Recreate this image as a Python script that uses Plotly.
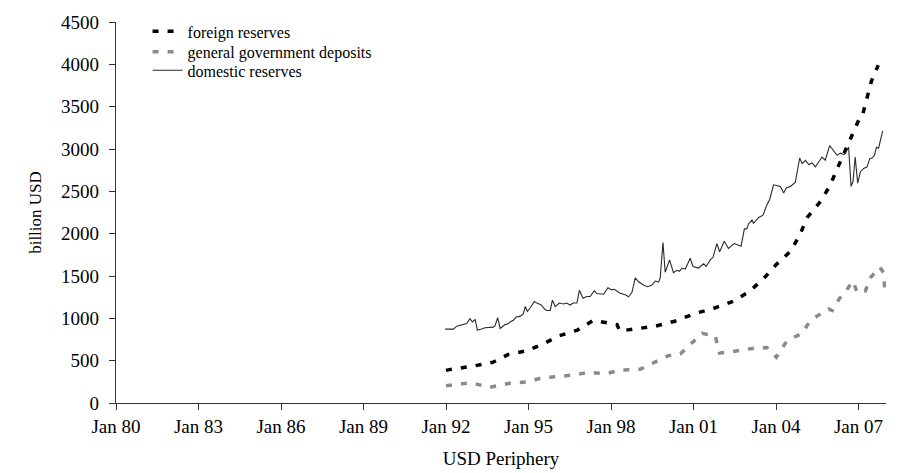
import plotly.graph_objects as go

# ---- data (decimal years, billion USD) ----
dom_t = [1991.97, 1992.27, 1992.39, 1992.57, 1992.75, 1992.87, 1992.96, 1993.06, 1993.14, 1993.30,
         1993.42, 1993.72, 1993.78, 1993.88, 1993.97, 1994.15, 1994.27, 1994.33, 1994.45, 1994.55,
         1994.69, 1994.81, 1994.88, 1994.96, 1995.08, 1995.21, 1995.32, 1995.45, 1995.60, 1995.67,
         1995.79, 1995.87, 1995.97, 1996.12, 1996.27, 1996.39, 1996.51, 1996.63, 1996.76, 1996.85,
         1996.98, 1997.12, 1997.24, 1997.39, 1997.49, 1997.73, 1997.89, 1998.03, 1998.12, 1998.33,
         1998.52, 1998.64, 1998.76, 1998.88, 1999.00, 1999.18, 1999.33, 1999.49, 1999.61, 1999.73,
         1999.79, 1999.89, 1999.97, 2000.13, 2000.27, 2000.40, 2000.49, 2000.58, 2000.70, 2000.88,
         2000.98, 2001.18, 2001.37, 2001.46, 2001.61, 2001.71, 2001.85, 2001.95, 2002.12, 2002.27,
         2002.48, 2002.64, 2002.73, 2002.85, 2002.94, 2003.00, 2003.13, 2003.18, 2003.37, 2003.53,
         2003.65, 2003.77, 2003.91, 2004.01, 2004.16, 2004.28, 2004.37, 2004.52, 2004.70, 2004.86,
         2004.95, 2005.07, 2005.19, 2005.31, 2005.43, 2005.55, 2005.67, 2005.79, 2005.95, 2006.07,
         2006.22, 2006.34, 2006.48, 2006.64, 2006.73, 2006.80, 2006.88, 2006.97, 2007.07, 2007.19,
         2007.31, 2007.41, 2007.49, 2007.58, 2007.65, 2007.73, 2007.88]
dom_v = [873, 873, 907, 919, 938, 995, 957, 988, 861, 873,
         888, 896, 911, 1007, 880, 926, 938, 957, 977, 1015,
         1023, 1053, 1139, 1081, 1131, 1200, 1177, 1162, 1104, 1093,
         1093, 1215, 1139, 1181, 1169, 1181, 1157, 1181, 1181, 1331,
         1238, 1258, 1258, 1324, 1293, 1285, 1362, 1336, 1343, 1296,
         1278, 1255, 1304, 1478, 1432, 1393, 1374, 1393, 1440, 1428,
         1478, 1895, 1544, 1690, 1540, 1567, 1556, 1594, 1582, 1709,
         1613, 1594, 1644, 1613, 1690, 1721, 1883, 1787, 1910, 1825,
         1883, 1864, 1852, 2057, 2057, 2115, 2161, 2122, 2192, 2219,
         2326, 2404, 2577, 2569, 2558, 2481, 2539, 2558, 2604, 2893,
         2828, 2867, 2817, 2836, 2789, 2847, 2905, 2867, 3040, 2991,
         2925, 2951, 2933, 3021, 2558, 2616, 2905, 2597, 2732, 2771,
         2789, 2886, 2893, 2925, 3021, 3009, 3214]

for_t = [1992.00, 1992.17, 1992.94, 1993.69, 1994.27, 1994.96, 1995.54, 1996.13, 1996.78, 1997.36,
         1997.94, 1998.22, 1998.32, 1998.92, 1999.61, 2000.35, 2001.06, 2001.75, 2002.46, 2003.04,
         2003.55, 2004.00, 2004.52, 2004.86, 2005.13, 2005.58, 2005.95, 2006.22, 2006.50, 2006.78,
         2007.04, 2007.13, 2007.31, 2007.47, 2007.72]
for_v = [385, 397, 433, 479, 575, 618, 699, 795, 861, 977,
         942, 926, 850, 876, 907, 969, 1058, 1119, 1204, 1319,
         1470, 1632, 1790, 1979, 2188, 2365, 2558, 2763, 2971, 3171,
         3365, 3380, 3588, 3801, 3990]

gov_t = [1992.00, 1992.17, 1992.91, 1993.58, 1994.31, 1995.00, 1995.45, 1996.05, 1996.70, 1997.18,
         1997.82, 1998.37, 1999.06, 1999.67, 2000.09, 2000.52, 2000.94, 2001.31, 2001.79, 2001.95,
         2002.31, 2002.76, 2003.21, 2003.67, 2004.01, 2004.34, 2004.70, 2004.95, 2005.15, 2005.49,
         2005.91, 2006.04, 2006.31, 2006.50, 2006.80, 2006.95, 2007.25, 2007.43, 2007.77, 2007.92,
         2007.95]
gov_v = [205, 213, 240, 185, 232, 251, 294, 313, 332, 363,
         347, 390, 398, 494, 560, 579, 706, 822, 795, 590,
         602, 621, 648, 656, 540, 706, 784, 822, 926, 1027,
         1111, 1092, 1235, 1304, 1440, 1304, 1324, 1478, 1605, 1536,
         1350]

tick_vals = [1980, 1983, 1986, 1989, 1992, 1995, 1998, 2001, 2004, 2007]
tick_text = ["Jan 80", "Jan 83", "Jan 86", "Jan 89", "Jan 92", "Jan 95", "Jan 98", "Jan 01", "Jan 04", "Jan 07"]
y_ticks = [0, 500, 1000, 1500, 2000, 2500, 3000, 3500, 4000, 4500]

FONT = "Liberation Serif, Times New Roman, serif"

fig = go.Figure()
fig.add_trace(go.Scatter(x=for_t, y=for_v, mode="lines", name="foreign reserves", legend="legend",
                         line=dict(color="black", width=3.5, dash="6px,9px")))
fig.add_trace(go.Scatter(x=gov_t, y=gov_v, mode="lines", name="general government deposits", legend="legend2",
                         line=dict(color="#8a8a8a", width=3.5, dash="6px,9px")))
fig.add_trace(go.Scatter(x=dom_t, y=dom_v, mode="lines", name="domestic reserves", legend="legend3",
                         line=dict(color="#2a2a2a", width=1.1)))

leg_common = dict(x=0.041, xanchor="left", yanchor="top", bgcolor="rgba(0,0,0,0)",
                  font=dict(family=FONT, size=16, color="black"), itemwidth=30, borderwidth=0)

# the page body adds an 8px offset, so the figure is sized to fit the 898x473 window
fig.update_layout(
    width=890, height=465,
    margin=dict(l=108, r=12, t=6, b=70),
    paper_bgcolor="white", plot_bgcolor="white",
    font=dict(family=FONT, size=19, color="black"),
    showlegend=True,
    legend=dict(y=1.02, **leg_common),
    legend2=dict(y=0.9666, **leg_common),
    legend3=dict(y=0.9177, **leg_common),
)
fig.update_xaxes(range=[1980, 2008], tickmode="array", tickvals=tick_vals, ticktext=tick_text,
                 showgrid=False, zeroline=False, showline=True, linecolor="#333", linewidth=1.2,
                 ticks="outside", ticklen=6, tickcolor="#333", automargin=False,
                 title=dict(text="USD Periphery", font=dict(family=FONT, size=19)),
                 tickfont=dict(family=FONT, size=19))
fig.update_yaxes(range=[0, 4500], tickmode="array", tickvals=y_ticks,
                 showgrid=False, zeroline=False, showline=True, linecolor="#333", linewidth=1.2,
                 ticks="outside", ticklen=6, tickcolor="#333", automargin=False, ticklabelstandoff=6,
                 title=dict(text="billion USD", font=dict(family=FONT, size=17)),
                 tickfont=dict(family=FONT, size=19))

fig.write_html("out.html")
